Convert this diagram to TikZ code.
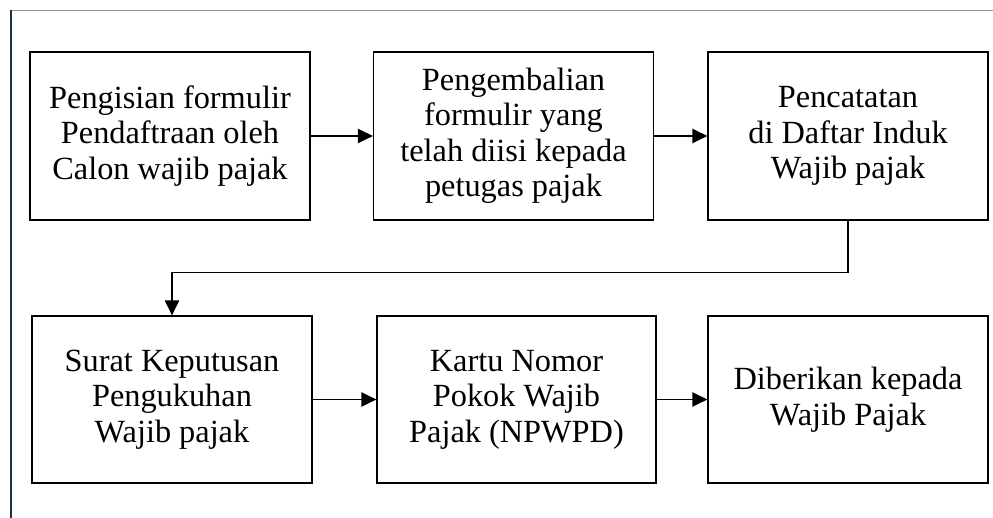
\documentclass[tikz,border=0pt]{standalone}
\usepackage{fontspec}
\setmainfont{Liberation Serif}
\usetikzlibrary{arrows.meta}
\definecolor{edgenavy}{HTML}{1C3347}
\definecolor{edgegray}{HTML}{8A96A2}
\tikzset{
	stepbox/.style={draw, line width=0.065cm, minimum width=14cm, minimum height=8.4cm, inner sep=0, align=center, font=\fontsize{46}{50.5}\selectfont},
	flow/.style={line width=0.065cm, -{Triangle[length=0.75cm, width=0.72cm]}}
}

\begin{document}
\begin{tikzpicture}
			%%%%% START %%%%%
			
			\useasboundingbox (0, 0) rectangle (49.65, 25.9);
			
			\draw[line width=0.05cm, color=edgegray] (0.5, 25.35) -- (49.65, 25.35);
			\draw[line width=0.1cm, color=edgenavy] (0.55, 25.4) -- (0.55, 0);
			
			\node[stepbox] (isi) at (8.5, 19.1) {Pengisian formulir\\Pendaftraan oleh\\Calon wajib pajak};
			\node[stepbox] (kembali) at (25.675, 19.1) {Pengembalian\\formulir yang\\telah diisi kepada\\petugas pajak};
			\node[stepbox] (catat) at (42.4, 19.1) {Pencatatan\\di Daftar Induk\\Wajib pajak};
			
			\node[stepbox, minimum height=8.35cm] (skp) at (8.6, 5.925) {Surat Keputusan\\Pengukuhan\\Wajib pajak};
			\node[stepbox, minimum height=8.35cm, minimum width=13.95cm] (kartu) at (25.825, 5.925) {Kartu Nomor\\Pokok Wajib\\Pajak (NPWPD)};
			\node[stepbox, minimum height=8.35cm] (beri) at (42.4, 5.925) {Diberikan kepada\\Wajib Pajak};
			
			\draw[flow] (isi) -- (kembali);
			\draw[flow] (kembali) -- (catat);
			\draw[flow] (catat.south) -- ++(0, -2.6) -| (skp.north);
			\draw[flow] (skp) -- (kartu);
			\draw[flow] (kartu) -- (beri);
			
			%%%%% END %%%%%
		\end{tikzpicture}
\end{document}
